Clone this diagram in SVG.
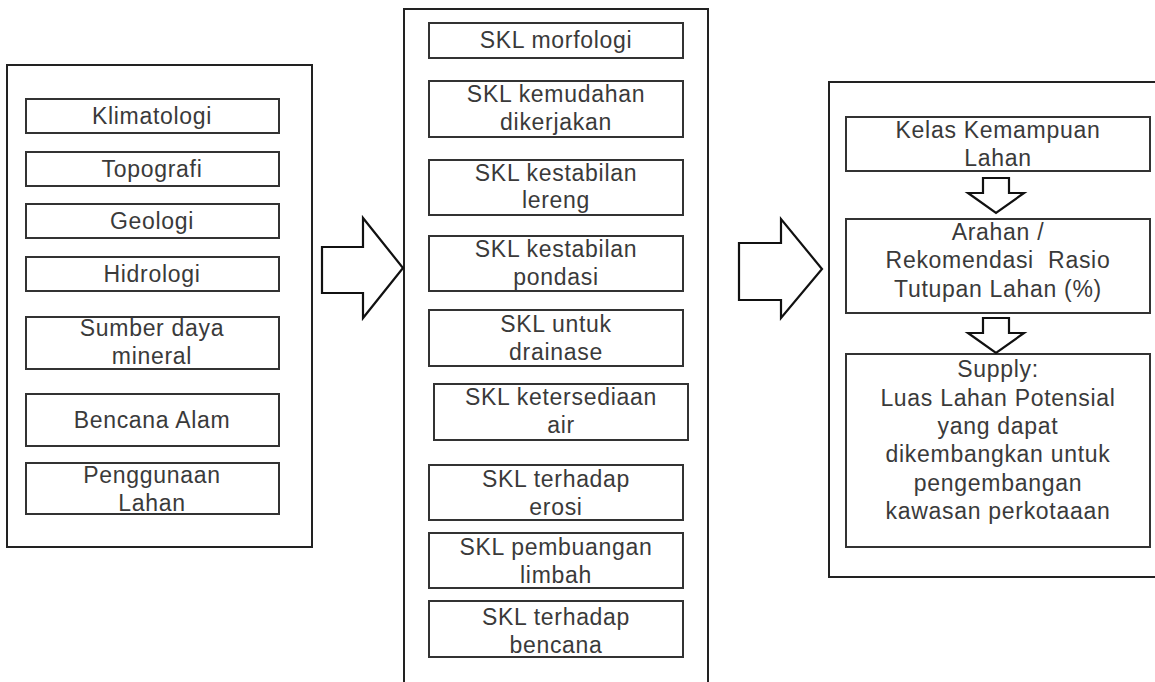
<svg xmlns="http://www.w3.org/2000/svg" width="1155" height="682" viewBox="0 0 1155 682">
<style>
.outer{fill:#fff;stroke:#222;stroke-width:2}
.box{fill:#fff;stroke:#333;stroke-width:2}
.arr{fill:#fff;stroke:#111;stroke-width:2.2;stroke-linejoin:miter}
text{font-family:"Liberation Sans",Arial,sans-serif;font-size:23px;letter-spacing:0.7px;fill:#3a3a3a;text-anchor:middle}
.pre{white-space:pre}
</style>
<rect width="1155" height="682" fill="#fff"/>
<g id="panel-input">
<rect class="outer" x="7" y="65" width="305" height="482"/>
</g>
<g id="panel-skl">
<rect class="outer" x="404" y="9" width="304" height="690"/>
</g>
<g id="panel-output">
<rect class="outer" x="829" y="82" width="340" height="495"/>
</g>
<g id="n-klimatologi"><rect class="box" x="26" y="99" width="253" height="34"/><text x="152" y="124">Klimatologi</text></g>
<g id="n-topografi"><rect class="box" x="26" y="152" width="253" height="34"/><text x="152" y="177">Topografi</text></g>
<g id="n-geologi"><rect class="box" x="26" y="204" width="253" height="34"/><text x="152" y="229">Geologi</text></g>
<g id="n-hidrologi"><rect class="box" x="26" y="257" width="253" height="34"/><text x="152" y="282">Hidrologi</text></g>
<g id="n-sumber"><rect class="box" x="26" y="317" width="253" height="52"/><text x="152" y="336">Sumber daya</text><text x="152" y="364">mineral</text></g>
<g id="n-bencana-alam"><rect class="box" x="26" y="394" width="253" height="52"/><text x="152" y="428">Bencana Alam</text></g>
<g id="n-penggunaan"><rect class="box" x="26" y="463" width="253" height="51"/><text x="152" y="483">Penggunaan</text><text x="152" y="511">Lahan</text></g>

<g id="n-morfologi"><rect class="box" x="429" y="23" width="254" height="35"/><text x="556" y="48">SKL morfologi</text></g>
<g id="n-kemudahan"><rect class="box" x="429" y="81" width="254" height="56"/><text x="556" y="102">SKL kemudahan</text><text x="556" y="130">dikerjakan</text></g>
<g id="n-lereng"><rect class="box" x="429" y="160" width="254" height="55"/><text x="556" y="181">SKL kestabilan</text><text x="556" y="208">lereng</text></g>
<g id="n-pondasi"><rect class="box" x="429" y="236" width="254" height="55"/><text x="556" y="257">SKL kestabilan</text><text x="556" y="285">pondasi</text></g>
<g id="n-drainase"><rect class="box" x="429" y="310" width="254" height="56"/><text x="556" y="332">SKL untuk</text><text x="556" y="360">drainase</text></g>
<g id="n-air"><rect class="box" x="434" y="384" width="254" height="56"/><text x="561" y="405">SKL ketersediaan</text><text x="561" y="433">air</text></g>
<g id="n-erosi"><rect class="box" x="429" y="465" width="254" height="55"/><text x="556" y="487">SKL terhadap</text><text x="556" y="515">erosi</text></g>
<g id="n-limbah"><rect class="box" x="429" y="533" width="254" height="55"/><text x="556" y="555">SKL pembuangan</text><text x="556" y="583">limbah</text></g>
<g id="n-bencana"><rect class="box" x="429" y="601" width="254" height="56"/><text x="556" y="625">SKL terhadap</text><text x="556" y="653">bencana</text></g>

<g id="n-kelas"><rect class="box" x="846" y="117" width="304" height="54"/><text x="998" y="138">Kelas Kemampuan</text><text x="998" y="166">Lahan</text></g>
<g id="n-arahan"><rect class="box" x="846" y="219" width="304" height="94"/><text x="998" y="240">Arahan /</text><text class="pre" x="998" y="268">Rekomendasi  Rasio</text><text x="998" y="297">Tutupan Lahan (%)</text></g>
<g id="n-supply"><rect class="box" x="846" y="354" width="304" height="193"/><text x="998" y="377">Supply:</text><text x="998" y="406">Luas Lahan Potensial</text><text x="998" y="434">yang dapat</text><text x="998" y="462">dikembangkan untuk</text><text x="998" y="491">pengembangan</text><text x="998" y="519">kawasan perkotaaan</text></g>

<g id="connectors">
<path class="arr" d="M322,247 L363,247 L363,218 L403,268 L363,318 L363,293 L322,293 Z"/>
<path class="arr" d="M739,243 L781,243 L781,219 L822,269 L781,318 L781,300 L739,300 Z"/>
<path class="arr" d="M983,178 L1009,178 L1009,193 L1024,193 L996,213 L968,193 L983,193 Z"/>
<path class="arr" d="M983,318 L1009,318 L1009,333 L1024,333 L996,353 L968,333 L983,333 Z"/>
</g>
</svg>
